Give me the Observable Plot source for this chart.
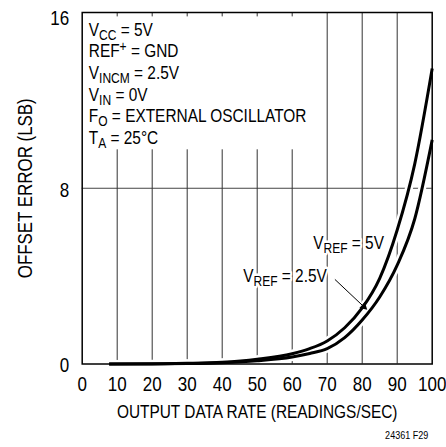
<!DOCTYPE html>
<html>
<head>
<meta charset="utf-8">
<script src="https://cdn.jsdelivr.net/npm/d3@7"></script>
<script src="https://cdn.jsdelivr.net/npm/@observablehq/plot@0.6"></script>
<style>
  html, body { margin: 0; padding: 0; background: #fff; }
  svg text { paint-order: stroke; }
</style>
</head>
<body>
<div id="chart"></div>
<script>
// ---- data ----
const rate = [7.7, 20, 30, 40, 50, 60, 65, 70, 75, 80, 85, 90, 95, 100];
const errVref5 = [0, 0.01, 0.03, 0.08, 0.22, 0.47, 0.7, 1.05, 1.65, 2.55, 3.9, 6.1, 9.1, 13.45];
const errVref25 = [0, 0.005, 0.02, 0.06, 0.15, 0.32, 0.48, 0.7, 1.2, 2.0, 3.05, 4.5, 6.6, 10.2];
const xTicks = [0, 10, 20, 30, 40, 50, 60, 70, 80, 90, 100];
const yTicks = [0, 8, 16];
const gridXFull = [70, 80, 90];
const gridXPartial = [10, 20, 30, 40, 50, 60];
const gridY = [8];
const conditions = [
  "V_{CC} = 5V",
  "REF^{+} = GND",
  "V_{INCM} = 2.5V",
  "V_{IN} = 0V",
  "F_{O} = EXTERNAL OSCILLATOR",
  "T_{A} = 25°C"
];
const seriesLabels = ["V_{REF} = 5V", "V_{REF} = 2.5V"];
const xLabel = "OUTPUT DATA RATE (READINGS/SEC)";
const yLabel = "OFFSET ERROR (LSB)";
const footnote = "24361 F29";

const curve5 = rate.map((r, i) => ({rate: r, err: errVref5[i]}));
const curve25 = rate.map((r, i) => ({rate: r, err: errVref25[i]}));

const FONT = "'Liberation Sans', Arial, sans-serif";
const SQUEEZE = 0.82;      // horizontal condensing, to mimic a narrow face
const SQUEEZE_TICK = 0.85;

const condMarks = conditions.map((c, i) =>
  Plot.text([c], {frameAnchor: "top-left", textAnchor: "start", lineAnchor: "top", dx: 6.6, dy: 10 + i * 21.6, fill: "black"})
);

const chart = Plot.plot({
  width: 446,
  height: 447,
  marginLeft: 81.7,
  marginRight: 14.3,
  marginTop: 12,
  marginBottom: 83.5,
  style: {fontFamily: FONT, fontSize: "18.8px", color: "black", background: "white", overflow: "visible"},
  x: {domain: [0, 100]},
  y: {domain: [0, 16]},
  marks: [
    Plot.ruleY(gridY, {stroke: "#444", strokeWidth: 1}),
    Plot.ruleX(gridXFull, {y1: 0, y2: 16, stroke: "#333", strokeWidth: 1}),
    Plot.ruleX(gridXPartial, {y1: 0, y2: 9.75, stroke: "#333", strokeWidth: 1}),
    Plot.ruleX(gridXPartial, {y1: 15.8, y2: 16, stroke: "#333", strokeWidth: 1}),
    Plot.line(curve25, {x: "rate", y: "err", curve: "monotone-x", stroke: "white", strokeWidth: 8, strokeLinecap: "butt"}),
    Plot.line(curve5, {x: "rate", y: "err", curve: "monotone-x", stroke: "white", strokeWidth: 8, strokeLinecap: "butt"}),
    Plot.line(curve25, {x: "rate", y: "err", curve: "monotone-x", stroke: "black", strokeWidth: 3, strokeLinecap: "butt"}),
    Plot.line(curve5, {x: "rate", y: "err", curve: "monotone-x", stroke: "black", strokeWidth: 3, strokeLinecap: "butt"}),
    Plot.frame({stroke: "black", strokeWidth: 1.5}),
    ...condMarks,
    Plot.text([seriesLabels[0]], {x: 66, y: 5.53, textAnchor: "start", fill: "black", stroke: "white", strokeWidth: 5}),
    Plot.text([seriesLabels[1]], {x: 46, y: 4.0, textAnchor: "start", fill: "black", stroke: "white", strokeWidth: 5}),
    Plot.link([0], {x1: 72.2, y1: 3.85, x2: 80.46, y2: 2.61, stroke: "black", strokeWidth: 1}),
    Plot.dot([0], {x: 80.46, y: 2.61, symbol: "triangle", r: 3, rotate: 132.6, fill: "black", stroke: "none"}),
    Plot.axisX(xTicks, {tickSize: 0, tickPadding: 13, label: null, fontSize: 20, className: "tick-lab"}),
    Plot.axisY([0, 8], {tickSize: 0, tickPadding: 13, label: null, dy: 2, fontSize: 20, className: "tick-lab"}),
    Plot.axisY([16], {tickSize: 0, tickPadding: 13, label: null, dy: 6, fontSize: 20, className: "tick-lab"}),
    Plot.text([xLabel], {frameAnchor: "bottom", textAnchor: "middle", lineAnchor: "bottom", dy: 53.5, fill: "black"}),
    Plot.text([yLabel], {frameAnchor: "left", textAnchor: "middle", lineAnchor: "middle", dx: -56, rotate: -90, fill: "black", fontSize: 19.5, className: "ylab"}),
    Plot.text([footnote], {frameAnchor: "bottom-right", textAnchor: "end", lineAnchor: "bottom", dx: -4, dy: 74.5, fill: "black", fontSize: 11})
  ]
});

// render _{sub} and ^{sup} markup as real tspans
d3.select(chart).selectAll("text").each(function () {
  const s = this.textContent;
  if (!/[_^]\{/.test(s)) return;
  this.textContent = "";
  const re = /([_^])\{([^}]*)\}/g;
  let last = 0, m, shift = 0;
  const ns = "http://www.w3.org/2000/svg";
  const add = (txt, dy, size) => {
    const t = document.createElementNS(ns, "tspan");
    if (dy) t.setAttribute("dy", dy);
    if (size) t.setAttribute("font-size", size);
    t.textContent = txt;
    this.appendChild(t);
  };
  while ((m = re.exec(s))) {
    if (m.index > last) { add(s.slice(last, m.index), shift ? -shift : 0); shift = 0; }
    const d = m[1] === "_" ? 4 : -6;
    add(m[2], d - shift, "78%");
    shift = d;
    last = re.lastIndex;
  }
  if (last < s.length) add(s.slice(last), shift ? -shift : 0);
});

// condense every text horizontally about its own anchor point
d3.select(chart).selectAll("text").each(function () {
  if (this.closest(".ylab")) {
    // rotated axis title: force its length along the text direction
    this.setAttribute("textLength", 180);
    this.setAttribute("lengthAdjust", "spacingAndGlyphs");
    return;
  }
  const k = this.closest(".tick-lab") ? SQUEEZE_TICK : SQUEEZE;
  const x = this.getAttribute("x");
  let tr = this.getAttribute("transform") || "";
  if (x && !/em$/.test(x) && +x !== 0) {
    tr = `translate(${+x},0) ` + tr;
    this.removeAttribute("x");
  }
  this.setAttribute("transform", (tr + ` scale(${k},1)`).trim());
});

document.getElementById("chart").appendChild(chart);
</script>
</body>
</html>
